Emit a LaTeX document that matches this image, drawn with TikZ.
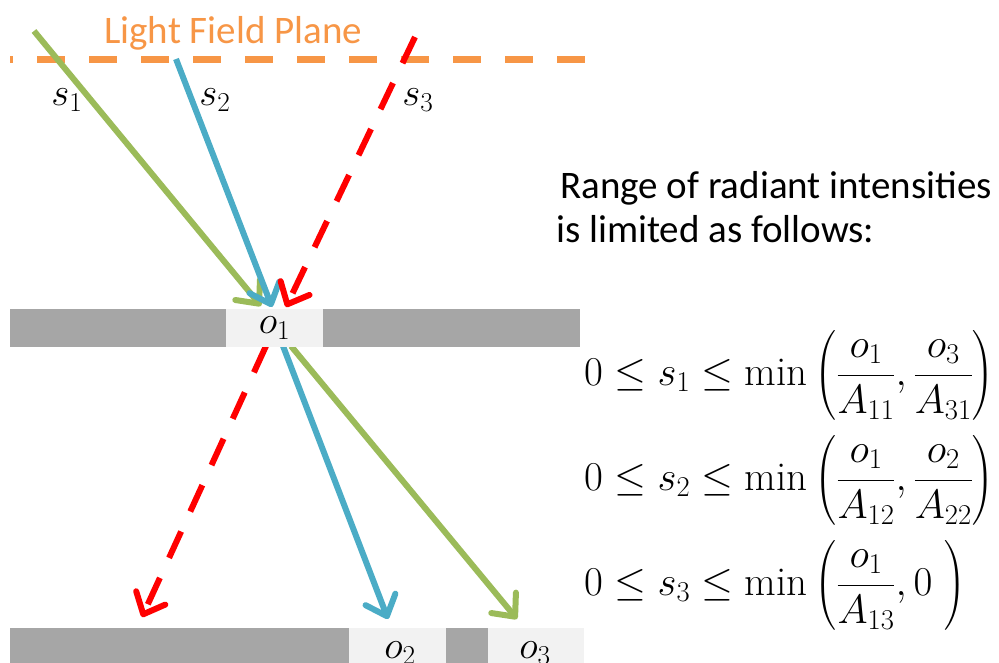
\documentclass[tikz,border=0pt]{standalone}
\usepackage{fix-cm}
\usepackage{amsmath}
\usepackage{fontspec}
\newfontfamily\calib{Carlito}
\usepackage{tikz}
\usetikzlibrary{arrows.meta,positioning,calc}
\definecolor{planeorange}{RGB}{247,150,70}
\definecolor{raygreen}{RGB}{155,187,89}
\definecolor{rayblue}{RGB}{75,172,198}
\definecolor{rayred}{RGB}{255,0,0}
\definecolor{bargray}{RGB}{166,166,166}
\definecolor{slotgray}{RGB}{242,242,242}
\tikzset{
  ray/.style={line width=6pt,-{Straight Barb[length=18pt,width=32pt,line width=6pt,round]}},
  greenray/.style={ray,draw=raygreen},
  blueray/.style={ray,draw=rayblue},
  redray/.style={ray,draw=rayred,dash pattern=on 29pt off 22pt},
  plane/.style={draw=planeorange,line width=7pt,dash pattern=on 28pt off 24pt,dash phase=25pt},
  slot/.style={fill=slotgray,minimum width=97pt,minimum height=38pt,inner sep=0pt},
  lbl/.style={inner sep=0pt,font=\fontsize{39}{44}\selectfont},
  txt/.style={lbl,anchor=base west,font=\calib\fontsize{39}{44}\selectfont},
  eqn/.style={inner sep=0pt,anchor=west,font=\fontsize{41}{46}\selectfont}
}

\begin{document}
\begin{tikzpicture}[x=1pt,y=-1pt]
  \useasboundingbox (0,0) rectangle (999,662);
  % light field plane
  \coordinate (pl) at (10,59);
  \coordinate (pr) at (585,59);
  \draw[plane] (pl) -- (pr);
  \node[txt,text=planeorange] (lfp) at (104,43) {Light Field Plane};
  % incoming rays
  \coordinate (g0) at (34,31);
  \coordinate (g1) at (261,306);
  \coordinate (b0) at (176,59);
  \coordinate (b1) at (272,307);
  \coordinate (r0) at (415,37);
  \coordinate (r1) at (286,307);
  \draw[greenray] (g0) -- (g1);
  \draw[blueray] (b0) -- (b1);
  \draw[redray] (r0) -- (r1);
  \node[lbl] (s1) at (67,100) {$s_1$};
  \node[lbl] (s2) at (215,100) {$s_2$};
  \node[lbl] (s3) at (418,100) {$s_3$};
  % outgoing rays
  \coordinate (g2) at (291,346);
  \coordinate (g3) at (517,619);
  \coordinate (b2) at (283,346);
  \coordinate (b3) at (388,619);
  \coordinate (r2) at (266,346);
  \coordinate (r3) at (142,617);
  \draw[greenray] (g2) -- (g3);
  \draw[blueray] (b2) -- (b3);
  \draw[redray] (r2) -- (r3);
  % masks
  \fill[bargray] (10,309) rectangle (580,347);
  \node[slot] (o1) at (274.5,328) {};
  \node[lbl] at (o1) {$o_1$};
  \fill[bargray] (10,628) rectangle (584,670);
  \node[slot,minimum height=42pt] (o2) at (397.5,649) {};
  \node[slot,minimum height=42pt,minimum width=96pt] (o3) at (536,649) {};
  \node[lbl] at (400,653) {$o_2$};
  \node[lbl] at (535,653) {$o_3$};
  % constraints
  \node[txt] (rng1) at (560,198) {Range of radiant intensities};
  \node[txt] (rng2) at (556,242) {is limited as follows:};
  \node[eqn] (c1) at (584,375) {$0\leq s_1\leq \min\left(\dfrac{o_1}{A_{11}},\dfrac{o_3}{A_{31}}\right)$};
  \node[eqn] (c2) at (584,480) {$0\leq s_2\leq \min\left(\dfrac{o_1}{A_{12}},\dfrac{o_2}{A_{22}}\right)$};
  \node[eqn] (c3) at (584,585) {$0\leq s_3\leq \min\left(\dfrac{o_1}{A_{13}},0\ \right)$};
\end{tikzpicture}
\end{document}
